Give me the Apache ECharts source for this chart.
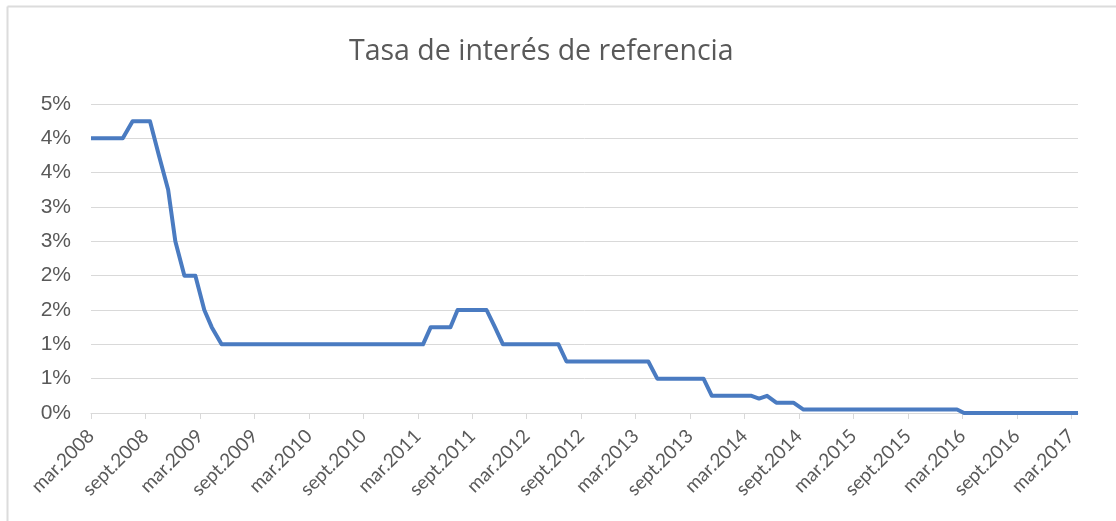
<!DOCTYPE html>
<html>
<head>
<meta charset="utf-8">
<script src="https://cdn.jsdelivr.net/npm/echarts@6/dist/echarts.min.js"></script>
<style>
html,body{margin:0;padding:0;background:#fff;}
#chart{width:1116px;height:521px;}
</style>
</head>
<body>
<div id="chart"></div>
<script>
// Dates (vertices of the series) and reference rate values (%)
const dates = [
  '2008-03-01','2008-06-16','2008-07-19','2008-09-16','2008-10-16','2008-11-16',
  '2008-12-10','2009-01-10','2009-02-15','2009-03-16','2009-04-10','2009-05-13',
  '2011-03-19','2011-04-14','2011-06-19','2011-07-13','2011-10-19','2011-11-16',
  '2011-12-13','2012-06-16','2012-07-13','2013-04-13','2013-05-13','2013-10-16',
  '2013-11-13','2014-03-25','2014-04-19','2014-05-16','2014-06-16','2014-08-13',
  '2014-09-16','2016-02-13','2016-03-07','2017-03-24'
];
const rates = [
  4.0, 4.0, 4.25, 4.25, 3.75, 3.25,
  2.5, 2.0, 2.0, 1.5, 1.25, 1.0,
  1.0, 1.25, 1.25, 1.5, 1.5, 1.25,
  1.0, 1.0, 0.75, 0.75, 0.5, 0.5,
  0.25, 0.25, 0.21, 0.25, 0.15, 0.15,
  0.05, 0.05, 0.0, 0.0
];
const tickLabels = [
  'mar.2008','sept.2008','mar.2009','sept.2009','mar.2010','sept.2010',
  'mar.2011','sept.2011','mar.2012','sept.2012','mar.2013','sept.2013',
  'mar.2014','sept.2014','mar.2015','sept.2015','mar.2016','sept.2016','mar.2017'
];
const yTicks = [0, 0.5, 1, 1.5, 2, 2.5, 3, 3.5, 4, 4.5];

// months elapsed since 1 March 2008 (fractional)
function monthsSince(s) {
  const p = s.split('-').map(Number);
  const dim = new Date(p[0], p[1], 0).getDate();
  return (p[0] - 2008) * 12 + (p[1] - 3) + (p[2] - 1) / dim;
}
const seriesData = dates.map((d, i) => [monthsSince(d), rates[i]]);

const chart = echarts.init(document.getElementById('chart'));
chart.setOption({
  animation: false,
  backgroundColor: '#ffffff',
  title: {
    text: 'Tasa de interés de referencia',
    left: 344,
    top: 32,
    textStyle: { fontFamily: 'Open Sans', fontSize: 28.5, fontWeight: 'normal', color: '#595959' }
  },
  graphic: [
    { type: 'line', shape: { x1: 7.5, y1: 6.5, x2: 1116, y2: 6.5 }, style: { stroke: '#dcdcdc', lineWidth: 2 } },
    { type: 'line', shape: { x1: 7.5, y1: 6.5, x2: 7.5, y2: 521 }, style: { stroke: '#dcdcdc', lineWidth: 2 } }
  ],
  grid: { left: 91, right: 38, top: 104, bottom: 108, containLabel: false },
  xAxis: {
    type: 'value',
    min: 0,
    max: monthsSince(dates[dates.length - 1]),
    interval: 6,
    axisLine: { show: true, lineStyle: { color: '#d9d9d9', width: 1 } },
    axisTick: { show: true, length: 6, lineStyle: { color: '#d9d9d9' } },
    splitLine: { show: false },
    axisLabel: {
      rotate: 45,
      margin: 20,
      showMaxLabel: false,
      fontFamily: 'Lato',
      fontSize: 19,
      color: '#595959',
      formatter: function (v) {
        const idx = Math.round(v / 6);
        return (Math.abs(v - idx * 6) < 1e-6 && tickLabels[idx]) ? tickLabels[idx] : '';
      }
    }
  },
  yAxis: {
    type: 'value',
    min: yTicks[0],
    max: yTicks[yTicks.length - 1],
    interval: 0.5,
    axisLine: { show: false },
    axisTick: { show: false },
    splitLine: { lineStyle: { color: '#d9d9d9', width: 1 } },
    axisLabel: {
      margin: 20,
      fontFamily: 'Liberation Sans',
      fontSize: 21,
      color: '#595959',
      formatter: function (v) { return Math.round(v) + '%'; }
    }
  },
  series: [{
    type: 'line',
    data: seriesData,
    showSymbol: false,
    symbol: 'none',
    lineStyle: { color: '#4a7bc1', width: 4, join: 'round' },
    z: 5
  }]
});
</script>
</body>
</html>
